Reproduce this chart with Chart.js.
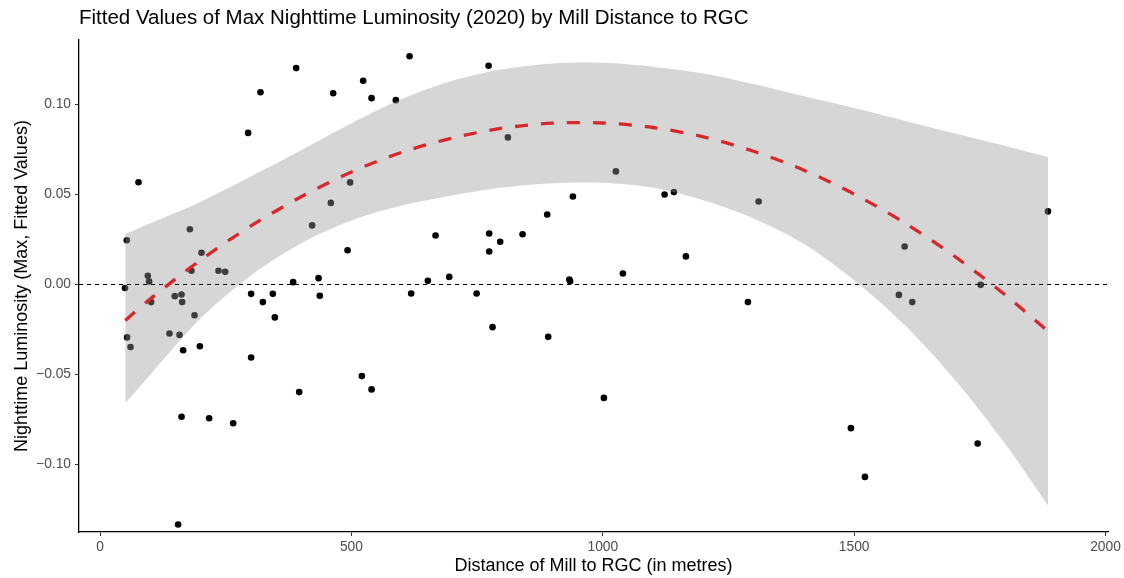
<!DOCTYPE html>
<html lang="en">
<head>
<meta charset="UTF-8" />
<title>Fitted Values of Max Nighttime Luminosity (2020)</title>
<script src="https://cdn.jsdelivr.net/npm/chart.js"></script>
<style>
  body { margin: 0; background: #fff; }
  .wrap { width: 1124px; height: 578px; }
</style>
</head>
<body>
<div class="wrap"><canvas id="fitChart"></canvas></div>
<script>
// observed mills: distance to RGC (m) and max nighttime luminosity (fitted)
const millDistance = [
  49.5, 53.1, 53.7, 60.5, 76.4, 94.9, 97.5, 101.5, 138, 148.6,
  155.2, 158, 161.9, 162, 163.2, 165.2, 178.5, 181.8, 187.8, 198.4,
  201.7, 216.9, 235.5, 248.8, 264.7, 294.5, 300.4, 300.4, 319, 323.7,
  343.6, 347.6, 384, 390, 396, 421.8, 434.5, 437, 459, 463.6,
  492.2, 497.4, 520.7, 523.3, 540, 540, 588.3, 615.6, 618.8, 652,
  667.3, 694.5, 749, 772.8, 774, 774, 780.7, 795.9, 811.2, 840.4,
  889.4, 891.4, 933.5, 935, 940.5, 1002.2, 1026, 1040, 1122.9, 1141.5,
  1165.3, 1288.7, 1310, 1493.6, 1521.5, 1589, 1600.5, 1615.6, 1745.7, 1751.7,
  1885.6
];
const maxLuminosity = [
  -0.0020, 0.0246, -0.0294, -0.0347, 0.0568, 0.0048, 0.0017, -0.0098, -0.0272, -0.0065,
  -0.1333, -0.0280, -0.0056, -0.0735, -0.0098, -0.0365, 0.0307, 0.0076, -0.0171, -0.0343,
  0.0176, -0.0743, 0.0076, 0.0070, -0.0771, 0.0842, -0.0052, -0.0406, 0.1068, -0.0098,
  -0.0052, -0.0183, 0.0013, 0.1202, -0.0598, 0.0328, 0.0035, -0.0063, 0.0453, 0.1062,
  0.0190, 0.0567, -0.0509, 0.1131, 0.1035, -0.0583, 0.1024, 0.1268, -0.0050, 0.0020,
  0.0272, 0.0042, -0.0050, 0.1215, 0.0283, 0.0183, -0.0237, 0.0237, 0.0817, 0.0279,
  0.0389, -0.0291, 0.0028, 0.0018, 0.0489, -0.0630, 0.0628, 0.0061, 0.0500, 0.0513,
  0.0156, -0.0098, 0.0461, -0.0798, -0.1069, -0.0058, 0.0211, -0.0098, -0.0883, -0.0002,
  0.0406
];

// quadratic fit and its confidence band
const fitDistance = [50, 100, 200, 300, 400, 500, 600, 700, 800, 900, 1000, 1100, 1200, 1300, 1400, 1500, 1600, 1700, 1800, 1886];
const fitValue = [-0.020, -0.008, 0.0136, 0.0325, 0.0487, 0.0625, 0.0734, 0.0813, 0.0868, 0.0896, 0.0897, 0.0872, 0.0820, 0.0740, 0.0635, 0.0502, 0.0343, 0.0156, -0.0057, -0.0261];
const ciUpper = [0.028, 0.034, 0.046, 0.060, 0.0745, 0.0895, 0.1030, 0.1130, 0.1195, 0.1228, 0.1232, 0.1210, 0.1172, 0.1113, 0.1045, 0.098, 0.091, 0.084, 0.077, 0.0707];
const ciLower = [-0.066, -0.050, -0.0188, 0.005, 0.0229, 0.0355, 0.0438, 0.0494, 0.0538, 0.0562, 0.0565, 0.0537, 0.0468, 0.0367, 0.0225, 0.0024, -0.0224, -0.0528, -0.0884, -0.1229];

const xTicks = [0, 500, 1000, 1500, 2000];
const yTicks = [-0.10, -0.05, 0, 0.05, 0.10];
const xRange = [-42, 2005];
const yRange = [-0.1375, 0.1358];

const pts = (xs, ys) => xs.map((x, i) => ({ x: x, y: ys[i] }));
const FONT = "'Liberation Sans', Arial, sans-serif";

new Chart(document.getElementById('fitChart'), {
  type: 'scatter',
  data: {
    datasets: [
      {
        label: 'Mills',
        data: pts(millDistance, maxLuminosity),
        backgroundColor: '#000',
        borderWidth: 0,
        pointRadius: 3.3,
        pointHoverRadius: 3.3,
        order: 4
      },
      {
        type: 'line',
        label: 'upper',
        data: pts(fitDistance, ciUpper),
        borderWidth: 0,
        pointRadius: 0,
        tension: 0.3,
        fill: '+1',
        backgroundColor: 'rgba(153,153,153,0.4)',
        order: 3
      },
      {
        type: 'line',
        label: 'lower',
        data: pts(fitDistance, ciLower),
        borderWidth: 0,
        pointRadius: 0,
        tension: 0.3,
        fill: false,
        order: 3
      },
      {
        type: 'line',
        label: 'zero',
        data: pts(xRange, [0, 0]),
        borderColor: '#000',
        borderWidth: 1,
        borderDash: [4, 4],
        pointRadius: 0,
        fill: false,
        order: 1
      },
      {
        type: 'line',
        label: 'fit',
        data: pts(fitDistance, fitValue),
        borderColor: '#D7282B',
        borderWidth: 3.3,
        borderDash: [13, 13],
        pointRadius: 0,
        tension: 0.3,
        fill: false,
        order: 0
      }
    ]
  },
  options: {
    responsive: true,
    maintainAspectRatio: false,
    animation: false,
    layout: { padding: { left: 0, right: 16, top: 0, bottom: 0 } },
    plugins: {
      legend: { display: false },
      tooltip: { enabled: false },
      title: {
        display: true,
        text: 'Fitted Values of Max Nighttime Luminosity (2020) by Mill Distance to RGC',
        align: 'start',
        fullSize: false,
        color: '#000',
        font: { family: FONT, size: 20.5, weight: 'normal' },
        padding: { top: 6, bottom: 9.4 }
      }
    },
    scales: {
      x: {
        type: 'linear',
        min: xRange[0],
        max: xRange[1],
        afterBuildTicks: s => { s.ticks = xTicks.map(v => ({ value: v })); },
        afterFit: s => { s.height = 46; },
        ticks: {
          color: '#4D4D4D',
          font: { family: FONT, size: 13.8 },
          padding: 3,
          maxRotation: 0,
          callback: v => String(v)
        },
        grid: { drawOnChartArea: false, drawTicks: true, tickLength: 4, tickColor: '#333', tickWidth: 1 },
        border: { display: true, color: '#000', width: 1.3 },
        title: {
          display: true,
          text: 'Distance of Mill to RGC (in metres)',
          color: '#000',
          font: { family: FONT, size: 18 },
          padding: { top: 0, bottom: 1 }
        }
      },
      y: {
        type: 'linear',
        min: yRange[0],
        max: yRange[1],
        afterBuildTicks: s => { s.ticks = yTicks.map(v => ({ value: v })); },
        afterFit: s => { s.width = 79; },
        ticks: {
          color: '#4D4D4D',
          font: { family: FONT, size: 13.8 },
          padding: 4,
          callback: v => (v < 0 ? '\u2212' : '') + Math.abs(v).toFixed(2)
        },
        grid: { drawOnChartArea: false, drawTicks: true, tickLength: 4, tickColor: '#333', tickWidth: 1 },
        border: { display: true, color: '#000', width: 1.3 },
        title: {
          display: true,
          text: 'Nighttime Luminosity (Max, Fitted Values)',
          color: '#000',
          font: { family: FONT, size: 18 },
          padding: { top: 11, bottom: 0 }
        }
      }
    }
  }
});
</script>
</body>
</html>
